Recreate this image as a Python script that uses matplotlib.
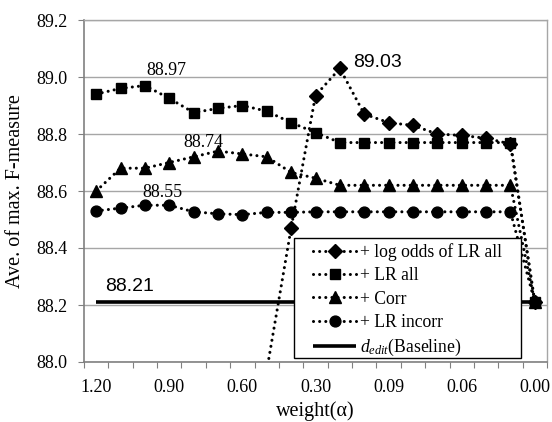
import numpy as np
import matplotlib
matplotlib.use("Agg")
import matplotlib.pyplot as plt
from matplotlib.patches import Rectangle

plt.rcParams["mathtext.fontset"] = "custom"
plt.rcParams["mathtext.rm"] = "Liberation Serif"
plt.rcParams["mathtext.it"] = "Liberation Serif:italic"

# ---- data ----
weights = ["1.20", "1.10", "1.00", "0.90", "0.80", "0.70", "0.60", "0.50", "0.40", "0.30",
           "0.20", "0.10", "0.09", "0.08", "0.07", "0.06", "0.05", "0.04", "0.00"]
log_odds_lr_all = [np.nan, np.nan, np.nan, np.nan, np.nan, np.nan, np.nan, 87.97, 88.47, 88.935,
                   89.03, 88.87, 88.84, 88.83, 88.80, 88.795, 88.785, 88.765, 88.21]
lr_all = [88.94, 88.96, 88.97, 88.925, 88.875, 88.89, 88.90, 88.88, 88.84, 88.805,
          88.77, 88.77, 88.77, 88.77, 88.77, 88.77, 88.77, 88.77, 88.21]
corr = [88.60, 88.68, 88.68, 88.70, 88.72, 88.74, 88.73, 88.72, 88.665, 88.645,
        88.62, 88.62, 88.62, 88.62, 88.62, 88.62, 88.62, 88.62, 88.21]
lr_incorr = [88.53, 88.54, 88.55, 88.55, 88.527, 88.52, 88.517, 88.525, 88.525, 88.527,
             88.527, 88.527, 88.527, 88.527, 88.527, 88.527, 88.527, 88.527, 88.21]
baseline = [88.21] * len(weights)
series_labels = ["+ log odds of LR all", "+ LR all", "+ Corr", "+ LR incorr",
                 r"$d_{edit}$(Baseline)"]
yticks = [88.0, 88.2, 88.4, 88.6, 88.8, 89.0, 89.2]

serif = ["Liberation Serif", "DejaVu Serif"]
sans = ["Liberation Sans", "DejaVu Sans"]

fig = plt.figure(figsize=(5.52, 4.22), dpi=100)
ax = fig.add_axes([84 / 552, 1 - 362 / 422, 463 / 552, 342 / 422])

x = np.arange(len(weights))
dot = dict(linestyle=(0, (0.01, 2.0)), linewidth=2.2, dash_capstyle="round", color="black")

ax.plot(x, log_odds_lr_all, marker="D", markersize=6.8, label=series_labels[0], zorder=5, **dot)
ax.plot(x, lr_all, marker="s", markersize=7.4, label=series_labels[1], zorder=4, **dot)
ax.plot(x, corr, marker="^", markersize=8.0, label=series_labels[2], zorder=4, **dot)
ax.plot(x, lr_incorr, marker="o", markersize=7.8, label=series_labels[3], zorder=4, **dot)
ax.plot(x, baseline, color="black", linewidth=2.6, solid_capstyle="butt",
        label=series_labels[4], zorder=3)

ax.set_xlim(-0.5, len(weights) - 0.5)
ax.set_ylim(88.0, 89.2)

# y axis
ax.set_yticks(yticks)
ax.set_yticklabels([f"{v:.1f}" for v in yticks], fontfamily=serif, fontsize=13)
ax.yaxis.grid(True, color="#a6a6a6", linewidth=1.0)
ax.set_axisbelow(True)
ax.tick_params(axis="y", length=4, color="#808080", pad=8)

# x axis: tick marks between categories, labels at every third category
ax.set_xticks(np.arange(len(weights) + 1) - 0.5)
ax.set_xticklabels([])
ax.tick_params(axis="x", which="major", length=4, color="#808080", direction="out")
lab_idx = list(range(0, len(weights), 3))
ax.set_xticks(lab_idx, minor=True)
ax.set_xticklabels([weights[i] for i in lab_idx], minor=True, fontfamily=serif, fontsize=13)
ax.tick_params(axis="x", which="minor", length=0, pad=12)

for s in ["left", "bottom"]:
    ax.spines[s].set_color("#808080")
    ax.spines[s].set_linewidth(1.2)
for s in ["right", "top"]:
    ax.spines[s].set_color("#a6a6a6")
    ax.spines[s].set_linewidth(1.0)

ax.set_xlabel("weight(α)", fontfamily=serif, fontsize=14.5, labelpad=4)
ax.set_ylabel("Ave. of max. F-measure", fontfamily=serif, fontsize=14.5, labelpad=8)

# value annotations
ax.text(2.9, 88.97 + 0.037, "88.97", fontfamily=serif, fontsize=13, ha="center", va="baseline")
ax.text(4.4, 88.74 + 0.014, "88.74", fontfamily=serif, fontsize=13, ha="center", va="baseline")
ax.text(2.7, 88.55 + 0.03, "88.55", fontfamily=serif, fontsize=13, ha="center", va="baseline")
ax.text(10.54, 89.03 + 0.005, "89.03", fontfamily=sans, fontsize=14, ha="left", va="baseline")
ax.text(0.36, 88.21 + 0.04, "88.21", fontfamily=sans, fontsize=14, ha="left", va="baseline")

# legend with a separately drawn frame
frame = Rectangle((0.4536, 0.0117), 0.9438 - 0.4536, 0.3626 - 0.0117, transform=ax.transAxes,
                  facecolor="white", edgecolor="black", linewidth=1.0, zorder=9)
ax.add_patch(frame)
leg = ax.legend(loc="upper left", bbox_to_anchor=(0.4946, 0.348), borderaxespad=0,
                prop={"family": serif, "size": 12.7}, frameon=False,
                handlelength=2.45, handletextpad=0.2,
                labelspacing=0.36, borderpad=0)
leg.set_zorder(10)

fig.savefig("out.png", dpi=100)
